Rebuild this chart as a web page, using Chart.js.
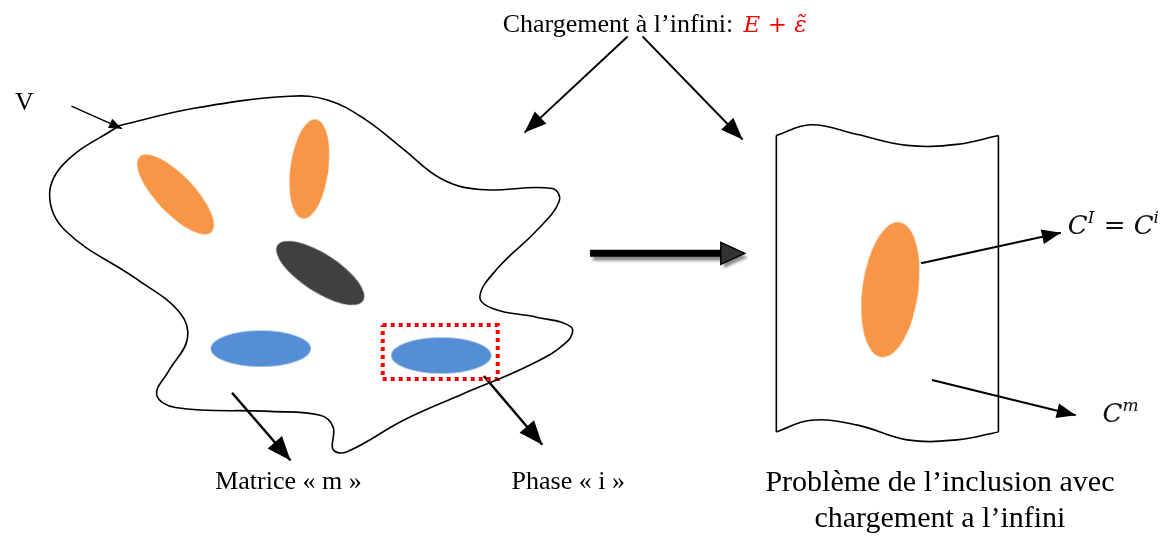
<!DOCTYPE html>
<html>
<head>
<meta charset="utf-8">
<script src="https://cdn.jsdelivr.net/npm/chart.js@4.4.0/dist/chart.umd.min.js"></script>
<style>
html, body { margin: 0; padding: 0; background: #fff; }
#wrap { width: 1166px; height: 545px; }
</style>
</head>
<body>
<div id="wrap"><canvas id="c" width="1166" height="545"></canvas></div>
<script>
// outline of the volume V (page coords, y down)
const blobX = [115,192,287,326,364,402,440,479,552,559,536,498,479,494,536,571,567,529,460,402,345,331,331,318,268,172,153,165,184,176,134,61,45,61,115];
const blobY = [123,105,93,97,117,147,177,188,187,200,230,267,297,310,318,328,343,367,397,423,455,453,430,418,414,410,397,373,340,313,280,230,193,160,123];

// the infinite medium on the right
const panelTopX = [778,813,860,910,960,1002];
const panelTopY = [133,122,132,143,142,133];
const panelBottomX = [778,813,860,910,960,1002];
const panelBottomY = [435,423,428,443,443,435];

// inclusions: centres
const inclusionX = [172,307,318,258,440,893];
const inclusionY = [193,167,273,350,357,290];
const inclusionKind = ['orange','orange','black','blue','blue','orange'];

// red dotted frame round phase i
const boxX = [381,497,497,381,381];
const boxY = [326,326,381,381,326];

// arrows: start / end
const arrowNames = ['V','loadLeft','loadRight','matrix','phase','cI','cm','big'];
const arrowX1 = [67,628,643,229,483,924,935,590];
const arrowY1 = [103,32,32,395,378,263,382,253];
const arrowX2 = [118,524,744,288,542,1065,1080,722];
const arrowY2 = [126,130,137,464,448,232,418,253];

// captions
const captionText = ['Chargement à l’infini:','V','Matrice « m »','Phase « i »','Problème de l’inclusion avec','chargement a l’infini'];
const captionX = [502,10,212,511,943,943];
const captionY = [27,107,493,493,495,532];

// styles (kept apart from the data)
const colors = { orange: '#F79646', black: '#404040', blue: '#558ED5' };
const inclusionShape = [
  { rx: 52, ry: 19, rot: 46.5 },
  { rx: 50, ry: 19, rot: -82.5 },
  { rx: 51, ry: 19, rot: 33 },
  { rx: 50, ry: 18, rot: 0 },
  { rx: 50, ry: 18, rot: 0 },
  { rx: 68, ry: 28, rot: -82.3 }
];
const arrowStyle = {
  V: { width: 1.5, len: 13, w: 10 },
  loadLeft: { width: 2, len: 22, w: 17 },
  loadRight: { width: 2, len: 22, w: 17 },
  matrix: { width: 2.5, len: 24, w: 19 },
  phase: { width: 2.5, len: 24, w: 19 },
  cI: { width: 2, len: 19, w: 15 },
  cm: { width: 2, len: 19, w: 15 },
  big: { width: 7, len: 24, w: 22, fromBase: true, fill: '#333', stroke: '#000', shadow: true }
};
const captionFont = ['26px "Liberation Serif"','26px "Liberation Serif"','26px "Liberation Serif"','26px "Liberation Serif"','30px "Liberation Serif"','30px "Liberation Serif"'];
const captionAlign = ['left','left','left','left','center','center'];

function pts(xs, ys) {
  return xs.map((x, i) => ({ x: x, y: ys[i] }));
}

function ellipseSprite(rx, ry, color) {
  const cv = document.createElement('canvas');
  cv.width = rx * 2 + 2;
  cv.height = ry * 2 + 2;
  const g = cv.getContext('2d');
  g.fillStyle = color;
  g.beginPath();
  g.ellipse(rx + 1, ry + 1, rx, ry, 0, 0, Math.PI * 2);
  g.fill();
  return cv;
}

const outline = (data, extra) => Object.assign({
  data: data,
  showLine: true,
  borderColor: '#000',
  borderWidth: 1.6,
  pointRadius: 0,
  tension: 0.4,
  clip: false
}, extra || {});

const datasets = [];
datasets.push(outline(pts(blobX, blobY)));
datasets.push(outline(pts(panelTopX, panelTopY)));
datasets.push(outline(pts(panelBottomX, panelBottomY)));
datasets.push(outline(pts([panelTopX[0], panelBottomX[0]], [panelTopY[0], panelBottomY[0]]), { tension: 0 }));
datasets.push(outline(pts([panelTopX[5], panelBottomX[5]], [panelTopY[5], panelBottomY[5]]), { tension: 0 }));
datasets.push(outline(pts(boxX, boxY), { tension: 0, borderColor: '#ff0000', borderWidth: 4, borderDash: [4, 4] }));
datasets.push({
  data: pts(inclusionX, inclusionY),
  showLine: false,
  pointRadius: 1,
  pointStyle: inclusionShape.map((s, i) => ellipseSprite(s.rx, s.ry, colors[inclusionKind[i]])),
  rotation: inclusionShape.map(s => s.rot),
  clip: false
});
arrowNames.forEach((name, i) => {
  const st = arrowStyle[name];
  datasets.push(outline(pts([arrowX1[i], arrowX2[i]], [arrowY1[i], arrowY2[i]]), {
    tension: 0,
    borderWidth: st.width,
    head: st,
    borderCapStyle: 'butt'
  }));
});

const shadowPlugin = {
  id: 'shadowPlugin',
  beforeDatasetDraw(chart, args) {
    const ds = chart.data.datasets[args.index];
    if (ds.head && ds.head.shadow) {
      chart.ctx.save();
      chart.ctx.shadowColor = 'rgba(0,0,0,0.45)';
      chart.ctx.shadowOffsetX = 3;
      chart.ctx.shadowOffsetY = 4;
      chart.ctx.shadowBlur = 3;
    }
  },
  afterDatasetDraw(chart, args) {
    const ds = chart.data.datasets[args.index];
    if (ds.head && ds.head.shadow) chart.ctx.restore();
  }
};

const arrowHeads = {
  id: 'arrowHeads',
  afterDatasetsDraw(chart) {
    const ctx = chart.ctx;
    chart.data.datasets.forEach((ds, i) => {
      if (!ds.head) return;
      const h = ds.head;
      const p = chart.getDatasetMeta(i).data;
      const a = p[p.length - 2], b = p[p.length - 1];
      const ang = Math.atan2(b.y - a.y, b.x - a.x);
      ctx.save();
      if (h.shadow) {
        ctx.shadowColor = 'rgba(0,0,0,0.45)';
        ctx.shadowOffsetX = 3;
        ctx.shadowOffsetY = 4;
        ctx.shadowBlur = 3;
      }
      ctx.translate(b.x, b.y);
      ctx.rotate(ang);
      const tip = h.fromBase ? h.len : 0;
      ctx.beginPath();
      ctx.moveTo(tip, 0);
      ctx.lineTo(tip - h.len, -h.w / 2);
      ctx.lineTo(tip - h.len, h.w / 2);
      ctx.closePath();
      ctx.fillStyle = h.fill || '#000';
      ctx.fill();
      if (h.stroke) {
        ctx.shadowColor = 'transparent';
        ctx.strokeStyle = h.stroke;
        ctx.lineWidth = 1.5;
        ctx.stroke();
      }
      ctx.restore();
    });
  }
};

function drawMath(ctx, parts, x, y, color) {
  let cx = x;
  ctx.fillStyle = color;
  ctx.textAlign = 'left';
  ctx.textBaseline = 'alphabetic';
  parts.forEach(p => {
    ctx.font = p[1] ? 'italic 17px "DejaVu Serif"' : 'italic 26px "DejaVu Serif"';
    ctx.fillText(p[0], cx, p[1] ? y - 11 : y);
    cx += ctx.measureText(p[0]).width + (p[1] ? 1 : 0);
  });
}

const captions = {
  id: 'captions',
  afterDraw(chart) {
    const ctx = chart.ctx;
    const sx = chart.scales.x, sy = chart.scales.y;
    ctx.save();
    captionText.forEach((t, i) => {
      ctx.font = captionFont[i];
      ctx.fillStyle = '#000';
      ctx.textAlign = captionAlign[i];
      ctx.textBaseline = 'alphabetic';
      ctx.fillText(t, sx.getPixelForValue(captionX[i]), sy.getPixelForValue(captionY[i]));
    });
    // loading term in red
    ctx.font = 'italic 23px "DejaVu Serif"';
    ctx.fillStyle = '#ff0000';
    ctx.textAlign = 'left';
    ctx.fillText('E + \u03B5\u0303', sx.getPixelForValue(745), sy.getPixelForValue(27));
    drawMath(ctx, [['C', 0], ['I', 1], [' = ', 0], ['C', 0], ['i', 1]], sx.getPixelForValue(1072), sy.getPixelForValue(233), '#111');
    drawMath(ctx, [['C', 0], ['m', 1]], sx.getPixelForValue(1107), sy.getPixelForValue(425), '#111');
    ctx.restore();
  }
};

new Chart(document.getElementById('c'), {
  type: 'scatter',
  data: { datasets: datasets },
  options: {
    responsive: false,
    animation: false,
    events: [],
    layout: { padding: 0 },
    plugins: { legend: { display: false }, tooltip: { enabled: false } },
    scales: {
      x: { type: 'linear', min: 0, max: 1166, display: false },
      y: { type: 'linear', min: 0, max: 545, reverse: true, display: false }
    }
  },
  plugins: [shadowPlugin, arrowHeads, captions]
});
</script>
</body>
</html>
